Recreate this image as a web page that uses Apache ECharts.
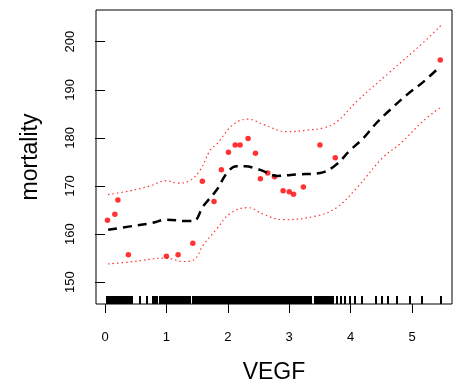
<!DOCTYPE html>
<html><head><meta charset="utf-8">
<script src="https://cdn.jsdelivr.net/npm/echarts@6/dist/echarts.min.js"></script>
<style>html,body{margin:0;padding:0;background:#fff}#c{width:454px;height:389px}</style>
</head><body><div id="c"></div>
<script>
// Observed points (VEGF, mortality)
const pointsX = [0.04,0.16,0.21,0.38,1.00,1.19,1.43,1.585,1.775,1.895,2.01,2.12,2.20,2.33,2.45,2.53,2.65,2.76,2.90,3.00,3.07,3.23,3.50,3.75,5.46];
const pointsY = [162.9,164.1,167.1,155.7,155.4,155.7,158.1,171.0,166.8,173.4,177.0,178.5,178.5,179.9,176.8,171.5,172.7,171.9,169.0,168.8,168.3,169.8,178.5,175.9,196.2];
// Fitted curve (dashed)
const fitX = [0.05,0.41,0.76,1.00,1.33,1.44,1.60,1.82,1.98,2.14,2.28,2.47,2.58,2.80,3.12,3.50,3.75,3.99,4.21,4.42,4.64,4.91,5.18,5.46];
const fitY = [160.9,161.6,162.3,163.0,162.7,162.7,165.8,169.2,172.6,174.1,174.1,173.6,173.1,172.1,172.4,172.7,174.3,177.4,180.0,183.1,185.8,188.9,191.6,194.9];
// Upper band (dotted)
const upperX = [0.05,0.41,0.73,1.00,1.19,1.38,1.55,1.71,1.82,2.09,2.33,2.58,2.96,3.28,3.56,3.77,4.10,4.64,5.18,5.48];
const upperY = [168.2,169.0,170.0,171.1,170.6,171.1,173.3,177.4,178.7,182.8,183.9,182.8,181.3,181.6,182.1,183.3,187.6,193.7,199.8,203.5];
// Lower band (dotted)
const lowerX = [0.05,0.41,1.00,1.28,1.44,1.60,1.82,2.04,2.33,2.58,2.90,3.45,3.77,4.10,4.53,4.80,5.18,5.48];
const lowerY = [153.8,154.2,155.0,154.3,154.6,157.7,161.1,164.3,165.5,164.1,163.0,163.8,165.5,169.6,176.0,178.7,183.5,186.5];
// Rug positions along VEGF
const rugX = [0.04,0.05,0.07,0.08,0.10,0.11,0.13,0.14,0.16,0.19,0.20,0.22,0.23,0.25,0.26,0.28,0.29,0.31,0.34,0.35,0.37,0.38,0.40,0.41,0.43,0.44,
0.57,0.68,0.78,0.81,0.85,0.90,0.93,0.96,0.99,1.02,1.06,1.09,1.12,1.16,1.19,1.22,1.25,1.29,1.32,1.35,1.38,
1.44,1.45,1.47,1.48,1.50,1.51,1.53,1.54,1.56,1.57,1.59,1.60,1.62,1.63,1.65,1.66,1.68,1.69,1.71,1.72,1.74,1.75,1.77,1.78,1.80,1.81,1.83,1.84,1.86,1.87,1.89,1.90,1.92,1.93,1.95,1.96,1.98,1.99,
2.01,2.02,2.04,2.05,2.07,2.08,2.10,2.11,2.13,2.14,2.16,2.17,2.19,2.20,2.22,2.23,2.25,2.26,2.28,2.29,2.31,2.32,2.34,2.35,2.37,2.38,2.40,2.41,2.43,2.44,2.46,2.47,2.49,2.50,2.52,2.53,2.55,2.56,2.58,2.59,2.61,2.62,2.64,2.65,2.67,2.68,2.70,2.71,2.73,2.74,2.76,2.77,2.79,2.80,2.82,2.83,2.85,2.86,2.88,2.89,2.91,2.92,2.94,2.95,2.97,2.98,
3.00,3.01,3.03,3.04,3.06,3.07,3.09,3.10,3.12,3.13,3.15,3.16,3.18,3.21,3.24,3.27,3.30,3.33,3.36,3.42,3.44,3.46,3.48,3.50,3.52,3.54,3.56,3.58,3.61,3.65,3.68,3.72,3.77,3.85,3.91,3.99,4.07,4.18,4.42,4.51,4.61,4.75,4.97,5.16,5.47];
const xTicks = [0,1,2,3,4,5];
const yTicks = [150,160,170,180,190,200];

const X_MIN = -0.147, X_MAX = 5.651, Y_MIN = 145.46, Y_MAX = 206.6;
const zip = (a,b) => a.map((v,i)=>[v,b[i]]);
const font = 'Liberation Sans, Arial, sans-serif';

const chart = echarts.init(document.getElementById('c'), null, {renderer:'canvas'});
chart.setOption({
  animation:false,
  backgroundColor:'#fff',
  grid:{left:96,right:2,top:10,bottom:79,show:true,borderColor:'#000',borderWidth:1,backgroundColor:'transparent'},
  xAxis:{type:'value',min:X_MIN,max:X_MAX,
    name:'VEGF',nameLocation:'middle',nameGap:57,
    nameTextStyle:{fontFamily:font,fontSize:23,color:'#000'},
    axisLine:{show:false},
    axisTick:{show:true,length:9,inside:false,customValues:xTicks,lineStyle:{color:'#000',width:1}},
    axisLabel:{customValues:xTicks,margin:27,fontFamily:font,fontSize:13,color:'#000'},
    splitLine:{show:false}},
  yAxis:{type:'value',min:Y_MIN,max:Y_MAX,
    name:'mortality',nameLocation:'middle',nameGap:54,
    nameTextStyle:{fontFamily:font,fontSize:23,color:'#000'},
    axisLine:{show:false},
    axisTick:{show:true,length:10,inside:false,customValues:yTicks,lineStyle:{color:'#000',width:1}},
    axisLabel:{customValues:yTicks,rotate:90,margin:19,fontFamily:font,fontSize:13,color:'#000'},
    splitLine:{show:false}},
  series:[
    {type:'custom',silent:true,clip:true,
      encode:{x:0},
      data:rugX.map(v=>[v]),
      renderItem:(params,api)=>{
        const p = api.coord([api.value(0), Y_MIN]);
        const x = Math.round(p[0]);
        return {type:'line',shape:{x1:x,y1:p[1],x2:x,y2:p[1]-8},style:{stroke:'#000',lineWidth:2}};
      }},
    {type:'line',data:zip(upperX,upperY),smooth:0.4,showSymbol:false,silent:true,
      lineStyle:{color:'#ff0000',width:1.2,type:[1.5,3],opacity:0.8}},
    {type:'line',data:zip(lowerX,lowerY),smooth:0.4,showSymbol:false,silent:true,
      lineStyle:{color:'#ff0000',width:1.2,type:[1.5,3],opacity:0.8}},
    {type:'line',data:zip(fitX,fitY),smooth:0.4,showSymbol:false,silent:true,
      lineStyle:{color:'#000',width:2.5,type:[9,6]}},
    {type:'scatter',data:zip(pointsX,pointsY),symbol:'circle',symbolSize:5.5,silent:true,
      itemStyle:{color:'#ff0000'}}
  ]
});
</script></body></html>
